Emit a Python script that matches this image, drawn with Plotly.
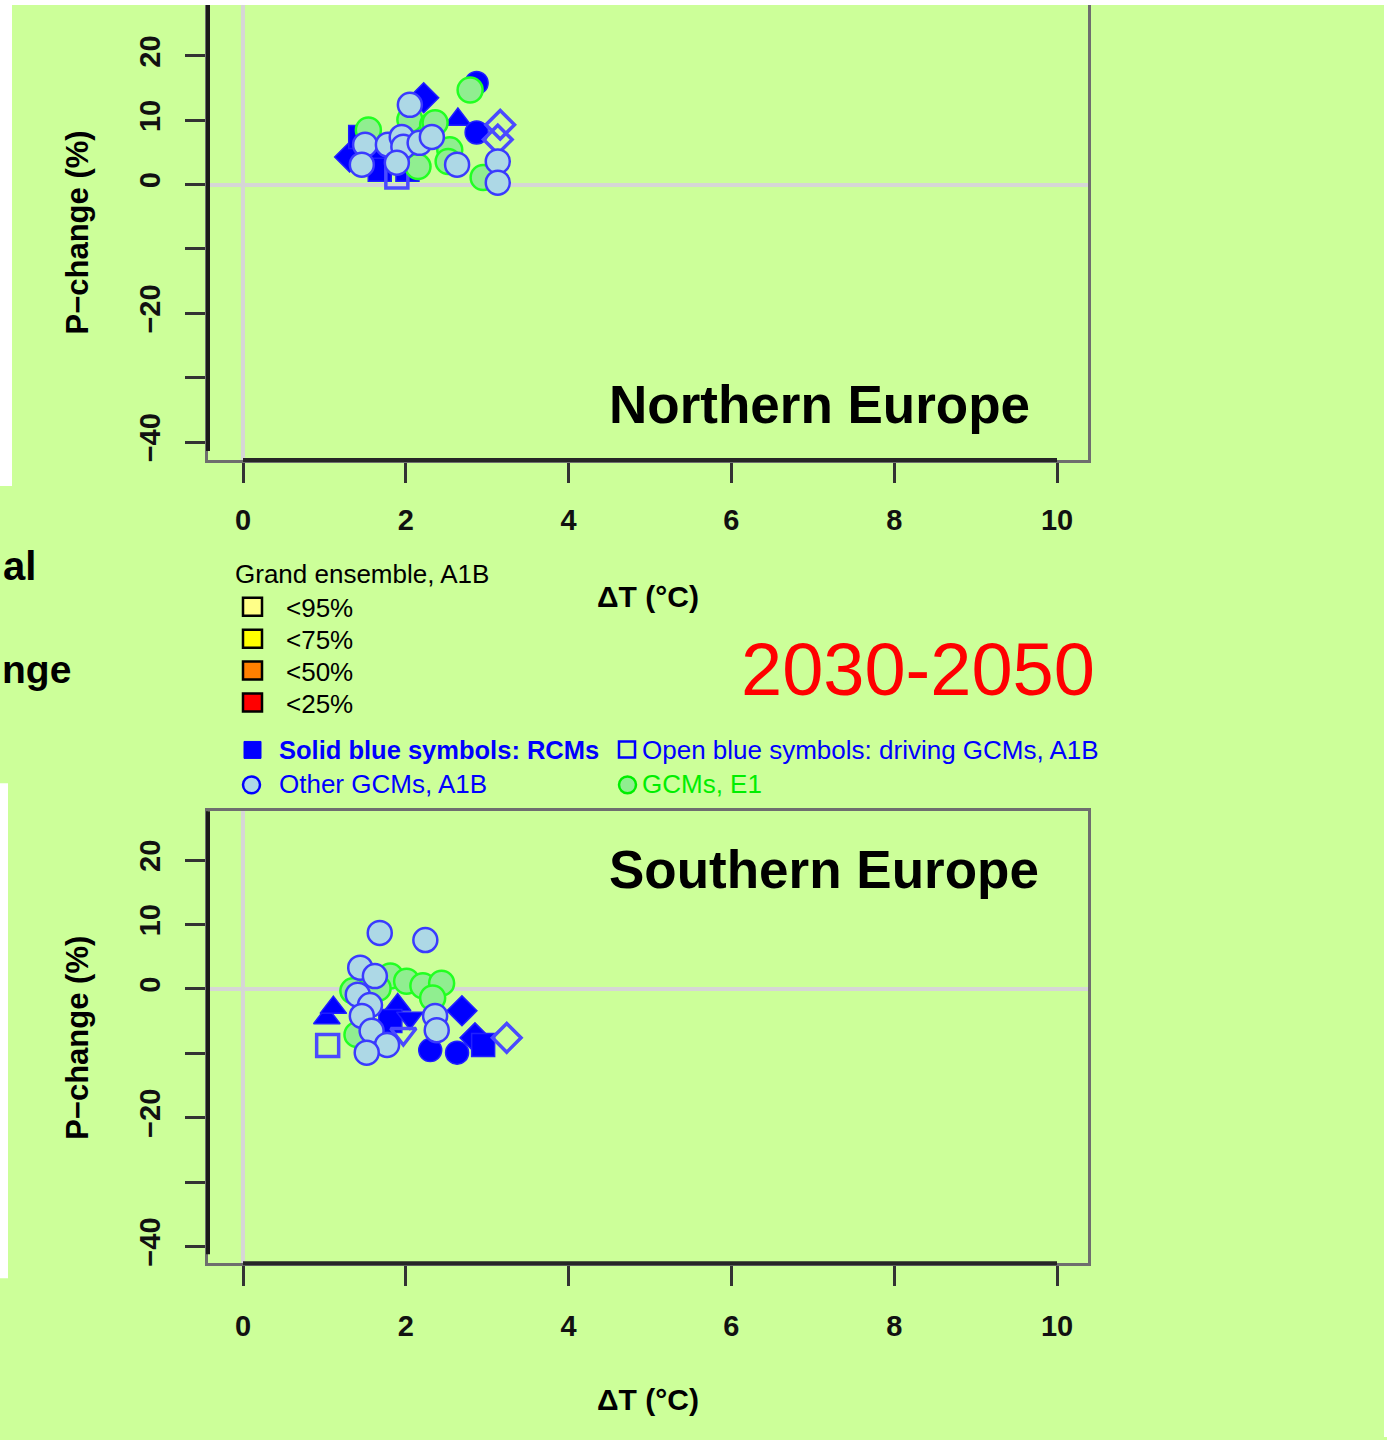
import plotly.graph_objects as go

# ---------------------------------------------------------------
# Precipitation change vs. temperature change, 2030-2050
# ---------------------------------------------------------------

# Northern Europe
ne_rcm_dt = [2.22, 1.31, 1.44, 1.68, 2.64, 2.87, 2.87, 2.02, 1.62]
ne_rcm_dp = [13.5, 4.3, 7.4, 2.3, 10.1, 8.1, 15.8, 2.3, 5.0]
ne_rcm_pch = [18, 18, 15, 15, 17, 16, 16, 15, 17]

ne_drv_dt = [3.16, 3.13, 1.89]
ne_drv_dp = [9.3, 7.0, 1.2]
ne_drv_pch = [18, 18, 15]

ne_a1b_dt = [2.05, 1.50, 1.78, 1.95, 1.97, 2.17, 1.46, 1.89, 2.63, 3.13, 3.13, 2.32]
ne_a1b_dp = [12.4, 6.2, 6.2, 7.4, 5.9, 6.5, 3.1, 3.4, 3.1, 3.6, 0.3, 7.4]

ne_e1_dt = [1.54, 2.05, 2.33, 2.15, 2.79, 2.36, 2.54, 2.52, 2.95]
ne_e1_dp = [8.5, 10.1, 9.3, 2.8, 14.7, 9.6, 5.4, 3.6, 1.1]

# Southern Europe
se_rcm_dt = [1.03, 1.11, 1.90, 1.81, 2.05, 2.69, 2.85, 2.30, 2.63, 2.95]
se_rcm_dp = [-4.5, -2.9, -2.5, -5.0, -4.5, -3.4, -7.6, -9.5, -9.9, -8.7]
se_rcm_pch = [17, 17, 17, 15, 25, 18, 18, 16, 16, 15]

se_drv_dt = [3.24, 1.04, 1.97]
se_drv_dp = [-7.6, -8.8, -7.0]
se_drv_pch = [18, 15, 25]

se_a1b_dt = [1.68, 2.24, 1.44, 1.62, 1.41, 1.56, 1.46, 1.58, 1.77, 1.52, 2.36, 2.38]
se_a1b_dp = [8.7, 7.6, 3.3, 2.0, -0.9, -2.5, -4.2, -6.5, -8.7, -9.9, -4.2, -6.4]

se_e1_dt = [1.81, 2.01, 2.21, 2.44, 2.33, 1.35, 1.40, 1.66]
se_e1_dp = [2.0, 1.2, 0.5, 0.9, -1.4, -0.3, -7.1, 0.1]

x_ticks = [0, 2, 4, 6, 8, 10]
y_ticks = [-40, -30, -20, -10, 0, 10, 20]
y_labels = ["\u221240", "", "\u221220", "", "0", "10", "20"]

quantile_labels = ["<95%", "<75%", "<50%", "<25%"]
quantile_colors = ["#ffff88", "#ffff00", "#ff8000", "#ff0000"]

# ---------------------------------------------------------------
W, H = 1387, 1440
BG = "#ccff99"
FONT = "Liberation Sans"
BLUE = "#0000ff"
OPEN_BLUE = "#4a4aff"


def fx(p):
    return p / W


def fy(p):
    return 1 - p / H


PCH_SYMBOL = {15: "square", 16: "circle", 17: "triangle-up", 18: "diamond", 25: "triangle-down"}

fig = go.Figure()


def add_panel(xa, ya, rcm, drv, a1b, e1):
    rx, ry, rp = rcm
    fig.add_trace(go.Scatter(
        x=rx, y=ry, mode="markers", xaxis=xa, yaxis=ya, showlegend=False,
        marker=dict(symbol=[PCH_SYMBOL[p] for p in rp], size=23, color=BLUE,
                    line=dict(color="#2020ff", width=1.5)),
    ))
    dx, dy, dp = drv
    fig.add_trace(go.Scatter(
        x=dx, y=dy, mode="markers", xaxis=xa, yaxis=ya, showlegend=False,
        marker=dict(symbol=[PCH_SYMBOL[p] + "-open" for p in dp], size=22,
                    color=OPEN_BLUE, line=dict(color=OPEN_BLUE, width=3.5)),
    ))
    ex, ey = e1
    fig.add_trace(go.Scatter(
        x=ex, y=ey, mode="markers", xaxis=xa, yaxis=ya, showlegend=False,
        marker=dict(symbol="circle", size=25, color="#90ee90",
                    line=dict(color="#22ff22", width=2.5)),
    ))
    ax_, ay_ = a1b
    fig.add_trace(go.Scatter(
        x=ax_, y=ay_, mode="markers", xaxis=xa, yaxis=ya, showlegend=False,
        marker=dict(symbol="circle", size=24, color="#add8e6",
                    line=dict(color="#3a3aff", width=2.5)),
    ))


add_panel("x", "y",
          (ne_rcm_dt, ne_rcm_dp, ne_rcm_pch), (ne_drv_dt, ne_drv_dp, ne_drv_pch),
          (ne_a1b_dt, ne_a1b_dp), (ne_e1_dt, ne_e1_dp))
add_panel("x2", "y2",
          (se_rcm_dt, se_rcm_dp, se_rcm_pch), (se_drv_dt, se_drv_dp, se_drv_pch),
          (se_a1b_dt, se_a1b_dp), (se_e1_dt, se_e1_dp))

# plot boxes (pixel frame), with a common scale of 81.4 px per degree and 6.45 px per percent
X0_PX, X1_PX, XZERO_PX, XPX = 208, 1088, 243, 81.4
YPX = 6.45
panels = [
    dict(top=3, bottom=461, zero=185),
    dict(top=813, bottom=1266, zero=991),
]

tickfont = dict(family=FONT, size=29, color="#111", weight="bold")
common_x = dict(
    range=[(X0_PX - XZERO_PX) / XPX, (X1_PX - XZERO_PX) / XPX],
    tickvals=x_ticks, ticktext=[str(v) for v in x_ticks],
    ticks="outside", ticklen=20, tickwidth=3, tickcolor="#333",
    tickfont=tickfont, ticklabelstandoff=12,
    showgrid=False, zeroline=True, zerolinecolor="#d6d6d6", zerolinewidth=4,
    showline=True, mirror=True, linecolor="#6e6e6e", linewidth=3,
    domain=[fx(X0_PX), fx(X1_PX)],
)


def y_axis(p):
    return dict(
        range=[-(p["bottom"] - p["zero"]) / YPX, (p["zero"] - p["top"]) / YPX],
        tickvals=y_ticks, ticktext=y_labels, tickangle=-90,
        ticks="outside", ticklen=20, tickwidth=3, tickcolor="#333",
        tickfont=tickfont, ticklabelstandoff=13,
        showgrid=False, zeroline=True, zerolinecolor="#d6d6d6", zerolinewidth=4,
        showline=True, mirror=True, linecolor="#6e6e6e", linewidth=3,
        domain=[fy(p["bottom"]), fy(p["top"])],
    )


fig.update_layout(
    width=W, height=H,
    margin=dict(l=0, r=0, t=0, b=0),
    paper_bgcolor=BG, plot_bgcolor="rgba(0,0,0,0)",
    xaxis=dict(common_x, anchor="y"),
    yaxis=dict(y_axis(panels[0]), anchor="x"),
    xaxis2=dict(common_x, anchor="y2", ticklabelstandoff=15),
    yaxis2=dict(y_axis(panels[1]), anchor="x2"),
)

shapes = []
# darker axis segments over the frame
for xr, yr in (("x", "y"), ("x2", "y2")):
    shapes.append(dict(type="line", xref=xr, yref=yr + " domain", x0=0, x1=10, y0=0, y1=0,
                       line=dict(color="#262626", width=4)))
    shapes.append(dict(type="line", xref=xr + " domain", yref=yr + " domain", x0=0, x1=0,
                       y0=0.02, y1=1, line=dict(color="#1a1a1a", width=4)))

# slide edges
for x0, y0, x1, y1 in [(0, 0, W, 5), (0, 0, 12, 487), (0, 785, 8, 1281), (1384, 0, W, H)]:
    shapes.append(dict(type="rect", xref="paper", yref="paper", layer="above",
                       x0=fx(x0), x1=fx(x1), y0=fy(y1), y1=fy(y0),
                       fillcolor="#ffffff", line=dict(width=0)))

annotations = []


def text(s, x, y, size, color="#000", bold=False, anchor="left", angle=0):
    annotations.append(dict(
        text=s, x=fx(x), y=fy(y), xref="paper", yref="paper", showarrow=False,
        xanchor=anchor, yanchor="middle", textangle=angle,
        font=dict(family=FONT, size=size, color=color, weight="bold" if bold else "normal"),
    ))


# panel titles and axis titles
text("Northern Europe", 607, 405, 53, bold=True)
text("Southern Europe", 607, 871, 53, bold=True)
for ty in (598, 1402):
    text("\u0394T (\u00b0C)", 648, ty, 30, bold=True, anchor="center")
text("P\u2212change (%)", 78, 233, 31, bold=True, anchor="center", angle=-90)
text("P\u2212change (%)", 78, 1040, 31, bold=True, anchor="center", angle=-90)

# period label
text("2030-2050", 918, 671, 74, color="#ff0000", anchor="center")

# side text
text("al", 38, 567, 40, bold=True, anchor="right")
text("nge", 0, 671, 39, bold=True, anchor="left")

# grand-ensemble key
text("Grand ensemble, A1B", 233, 575, 26)
for i, (lab, col) in enumerate(zip(quantile_labels, quantile_colors)):
    cy = 608 + i * 32
    shapes.append(dict(type="rect", xref="paper", yref="paper",
                       x0=fx(243), x1=fx(262), y0=fy(cy + 9), y1=fy(cy - 9),
                       fillcolor=col, line=dict(color="#000", width=2.5)))
    text(lab, 284, cy + 1, 26)

# symbol key
shapes.append(dict(type="rect", xref="paper", yref="paper",
                   x0=fx(244), x1=fx(261), y0=fy(760), y1=fy(743),
                   fillcolor=BLUE, line=dict(color=BLUE, width=1)))
text("Solid blue symbols: RCMs", 277, 752, 25.5, color=BLUE, bold=True)
shapes.append(dict(type="rect", xref="paper", yref="paper",
                   x0=fx(619), x1=fx(635), y0=fy(759), y1=fy(743),
                   fillcolor="rgba(0,0,0,0)", line=dict(color=BLUE, width=2.5)))
text("Open blue symbols: driving GCMs, A1B", 640, 752, 26, color=BLUE)
shapes.append(dict(type="circle", xref="paper", yref="paper",
                   x0=fx(243), x1=fx(260), y0=fy(795), y1=fy(778),
                   fillcolor="#add8e6", line=dict(color=BLUE, width=2.5)))
text("Other GCMs, A1B", 277, 786, 26, color=BLUE)
shapes.append(dict(type="circle", xref="paper", yref="paper",
                   x0=fx(619), x1=fx(636), y0=fy(795), y1=fy(778),
                   fillcolor="#90ee90", line=dict(color="#00ee00", width=2.5)))
text("GCMs, E1", 640, 786, 26, color="#00ee00")

fig.update_layout(shapes=shapes, annotations=annotations)

fig.write_html("out.html")
